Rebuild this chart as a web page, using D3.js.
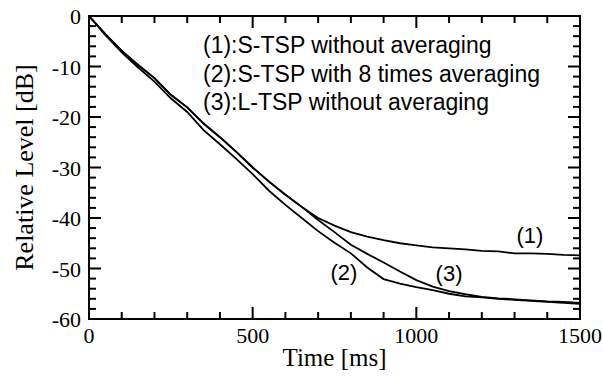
<!DOCTYPE html>
<html><head><meta charset="utf-8">
<script src="https://cdn.jsdelivr.net/npm/d3@7"></script>
<style>body{margin:0;background:#fff}</style>
</head><body>
<svg id="c" width="603" height="376"></svg>
<script>
const timesMs = [0,50,100,150,200,250,300,350,400,450,500,550,600,650,700,750,800,850,900,950,1000,1050,1100,1150,1200,1250,1300,1350,1400,1450,1500];
const series1 = [0,-3.6,-6.9,-9.7,-12.3,-15.6,-18.1,-21.3,-24.0,-26.9,-30.0,-32.8,-35.4,-37.8,-40.0,-41.5,-42.8,-43.7,-44.4,-45.0,-45.4,-45.8,-46.0,-46.2,-46.5,-46.6,-47.0,-47.0,-47.1,-47.3,-47.4];
const series2 = [0,-3.8,-7.2,-10.2,-13.0,-16.3,-19.0,-22.6,-25.4,-28.3,-31.3,-34.6,-37.4,-40.0,-42.6,-44.9,-47.0,-49.8,-52.1,-53.0,-53.7,-54.3,-55.0,-55.5,-55.7,-56.0,-56.2,-56.4,-56.6,-56.8,-57.0];
const series3 = [0,-3.6,-6.9,-9.7,-12.3,-15.6,-18.1,-21.3,-24.0,-26.9,-30.0,-32.8,-35.4,-37.8,-40.4,-42.8,-45.3,-47.1,-48.8,-50.6,-52.3,-53.6,-54.5,-55.1,-55.6,-55.9,-56.1,-56.3,-56.5,-56.6,-56.8];
const seriesNames = ["(1)","(2)","(3)"];
const legendLines = ["(1):S-TSP without averaging","(2):S-TSP with 8 times averaging","(3):L-TSP without averaging"];
const xTicks = [0,500,1000,1500];
const yTicks = [0,-10,-20,-30,-40,-50,-60];
const labelPos = [[1347,-45.0],[779,-52.3],[1100,-52.5]];

const svg = d3.select("#c");
const L=89,R=580,T=16,B=319;
const x = d3.scaleLinear().domain([0,1500]).range([L,R]);
const y = d3.scaleLinear().domain([0,-60]).range([T,B]);

const g = svg.append("g");
const xMinor = d3.range(0,1501,100), yMinor = d3.range(0,-61,-2);
function tk(sel){sel.attr("stroke","#000").attr("stroke-width",2);}
xMinor.forEach(v=>{
  const len = v%500===0?12:7;
  tk(g.append("line").attr("x1",x(v)).attr("x2",x(v)).attr("y1",B).attr("y2",B-len));
  tk(g.append("line").attr("x1",x(v)).attr("x2",x(v)).attr("y1",T).attr("y2",T+len));
});
yMinor.forEach(v=>{
  const len = v%10===0?12:7;
  tk(g.append("line").attr("y1",y(v)).attr("y2",y(v)).attr("x1",L).attr("x2",L+len));
  tk(g.append("line").attr("y1",y(v)).attr("y2",y(v)).attr("x1",R).attr("x2",R-len));
});
g.append("rect").attr("x",L).attr("y",T).attr("width",R-L).attr("height",B-T)
 .attr("fill","none").attr("stroke","#000").attr("stroke-width",2);

const serif = "'Liberation Serif','Times New Roman',serif";
const sans = "'Liberation Sans',Arial,sans-serif";
xTicks.forEach(v=>g.append("text").attr("x",x(v)).attr("y",343).attr("text-anchor","middle")
  .attr("font-family",serif).attr("font-size",22).text(v));
yTicks.forEach(v=>g.append("text").attr("x",81).attr("y",y(v)+8).attr("text-anchor","end")
  .attr("font-family",serif).attr("font-size",22).text(v));
g.append("text").attr("x",(L+R)/2).attr("y",366).attr("text-anchor","middle")
  .attr("font-family",serif).attr("font-size",25).text("Time [ms]");
g.append("text").attr("transform",`translate(33,${(T+B)/2}) rotate(-90)`).attr("text-anchor","middle")
  .attr("font-family",serif).attr("font-size",26).text("Relative Level [dB]");

const line = d3.line().x((d,i)=>x(timesMs[i])).y(d=>y(d));
[series1,series2,series3].forEach(s=>{
  g.append("path").attr("d",line(s)).attr("fill","none").attr("stroke","#000").attr("stroke-width",1.8);
});
legendLines.forEach((t,i)=>g.append("text").attr("x",203).attr("y",53+i*28.5)
  .attr("font-family",sans).attr("font-size",23).text(t));
seriesNames.forEach((t,i)=>g.append("text").attr("x",x(labelPos[i][0])).attr("y",y(labelPos[i][1]))
  .attr("text-anchor","middle").attr("font-family",sans).attr("font-size",22).text(t));
</script>
</body></html>
